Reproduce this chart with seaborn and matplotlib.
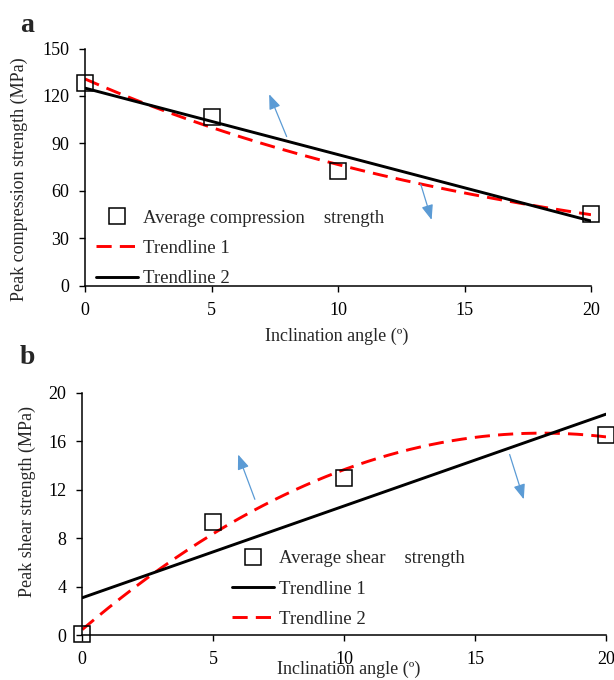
import numpy as np
import pandas as pd
import matplotlib
matplotlib.use("Agg")
import matplotlib.pyplot as plt
import seaborn as sns
from matplotlib.lines import Line2D

# Measured values
angles = [0, 5, 10, 20]
compression = [128.1, 106.6, 72.6, 45.4]   # MPa
shear = [0.1, 9.3, 12.95, 16.47]            # MPa

xticks = [0, 5, 10, 15, 20]
yticks_a = [0, 30, 60, 90, 120, 150]
yticks_b = [0, 4, 8, 12, 16, 20]

# Annotation arrows (tail -> head) in data units
arrows_a = [((7.97, 94.3), (7.28, 121.1)), ((13.27, 64.2), (13.7, 41.6))]
arrows_b = [((6.59, 11.2), (5.95, 14.9)), ((16.32, 14.9), (16.86, 11.2))]

sns.set_style("ticks")
plt.rcParams["font.family"] = ["Liberation Serif", "DejaVu Serif"]

RED = "#FF0000"
BLUE = "#5B9BD5"
TICK_FS = 13
LABEL_FS = 13
LEG_FS = 13.5
LW = 2.1
DASH = (5.2, 2.8)

fig = plt.figure(figsize=(6.14, 6.8), dpi=100)
W, H = 614, 680


def px_axes(left, top, right, bottom):
    return fig.add_axes([left / W, 1 - bottom / H, (right - left) / W, (bottom - top) / H])


ax1 = px_axes(85, 48.5, 591, 285.7)
ax2 = px_axes(82.3, 392.7, 606, 635)

xfit = np.linspace(0, 20, 201)
df = pd.DataFrame({"angle": angles, "compression": compression, "shear": shear})

# --- (a) compression: exponential and linear trendlines
b_exp, a_exp = np.polyfit(df["angle"], np.log(df["compression"]), 1)
lin_a = np.polyfit(df["angle"], df["compression"], 1)
fit_a = pd.DataFrame({"x": xfit,
                      "t1": np.exp(a_exp) * np.exp(b_exp * xfit),
                      "t2": np.polyval(lin_a, xfit)})

sns.lineplot(data=fit_a, x="x", y="t1", ax=ax1, color=RED, lw=LW,
             zorder=2).lines[-1].set_dashes(DASH)
sns.lineplot(data=fit_a, x="x", y="t2", ax=ax1, color="black", lw=LW, zorder=3)
ax1.plot(df["angle"], df["compression"], ls="none", marker="s", ms=11.5,
         mfc="none", mec="black", mew=1.1, zorder=4, clip_on=False)

# --- (b) shear: linear and quadratic trendlines
lin_b = np.polyfit(df["angle"], df["shear"], 1)
quad_b = np.polyfit(df["angle"], df["shear"], 2)
fit_b = pd.DataFrame({"x": xfit,
                      "t1": np.polyval(lin_b, xfit),
                      "t2": np.polyval(quad_b, xfit)})

sns.lineplot(data=fit_b, x="x", y="t1", ax=ax2, color="black", lw=LW, zorder=3)
sns.lineplot(data=fit_b, x="x", y="t2", ax=ax2, color=RED, lw=LW,
             zorder=2).lines[-1].set_dashes(DASH)
ax2.plot(df["angle"], df["shear"], ls="none", marker="s", ms=11.5,
         mfc="none", mec="black", mew=1.1, zorder=4, clip_on=False)

for ax, yt in ((ax1, yticks_a), (ax2, yticks_b)):
    ax.set_xlim(0, 20)
    ax.set_ylim(yt[0], yt[-1])
    ax.set_xticks(xticks)
    ax.set_yticks(yt)
    ax.tick_params(axis="both", direction="out", length=4, width=1,
                   labelsize=TICK_FS, pad=7.5, color="black", labelcolor="black")
    sns.despine(ax=ax)
    for s in ("left", "bottom"):
        ax.spines[s].set_linewidth(1.1)
        ax.spines[s].set_color("black")
    ax.set_ylabel("")
    ax.set_xlabel("")

for ax, arrs in ((ax1, arrows_a), (ax2, arrows_b)):
    for tail, head in arrs:
        ax.annotate("", xy=head, xytext=tail,
                    arrowprops=dict(arrowstyle="-|>,head_length=0.9,head_width=0.35",
                                    color=BLUE, lw=0.9, shrinkA=0, shrinkB=0))

ax1.set_xlabel("Inclination angle (º)", fontsize=LABEL_FS)
ax1.xaxis.set_label_coords(0.498, -0.178)
ax1.set_ylabel("Peak compression strength (MPa)", fontsize=LABEL_FS)
ax1.yaxis.set_label_coords(-0.113, 0.448)

ax2.set_xlabel("Inclination angle (º)", fontsize=LABEL_FS)
ax2.xaxis.set_label_coords(0.508, -0.107)
ax2.set_ylabel("Peak shear strength (MPa)", fontsize=LABEL_FS)
ax2.yaxis.set_label_coords(-0.088, 0.553)

sq = Line2D([], [], ls="none", marker="s", ms=11.5, mfc="none", mec="black", mew=1.1)
red_h = Line2D([], [], color=RED, lw=LW, dashes=DASH)
blk_h = Line2D([], [], color="black", lw=LW)

leg_kw = dict(loc="upper left", frameon=False, fontsize=LEG_FS, handlelength=2.25,
              handletextpad=0.27, labelspacing=0.70, borderaxespad=0)

ax1.legend([sq, red_h, blk_h],
           ["Average compression    strength", "Trendline 1", "Trendline 2"],
           bbox_to_anchor=(0.007, 0.353), **leg_kw)

ax2.legend([sq, blk_h, red_h],
           ["Average shear    strength", "Trendline 1", "Trendline 2"],
           bbox_to_anchor=(0.2715, 0.381), **leg_kw)

fig.text(27 / W, 1 - 25 / H, "a", fontsize=20, fontweight="bold", va="center", ha="center")
fig.text(27 / W, 1 - 358 / H, "b", fontsize=20, fontweight="bold", va="center", ha="center")

fig.savefig("out.png", dpi=100)
